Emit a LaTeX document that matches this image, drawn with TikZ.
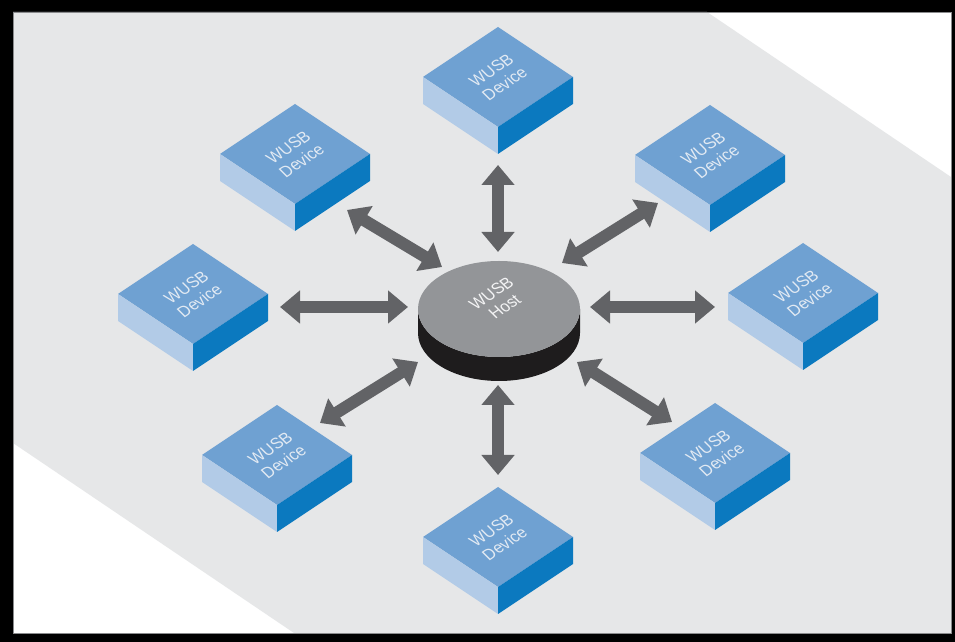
\documentclass[tikz,border=0pt]{standalone}
\usepackage{fontspec}
\setmainfont{Liberation Sans}
\usetikzlibrary{arrows.meta}

\definecolor{bandgray}{HTML}{E6E7E8}
\definecolor{topblue}{HTML}{6FA1D2}
\definecolor{leftblue}{HTML}{B2CBE7}
\definecolor{rightblue}{HTML}{0B79BF}
\definecolor{arrowgray}{HTML}{626366}
\definecolor{hosttop}{HTML}{939598}
\definecolor{hostside}{HTML}{1E1C1D}
\definecolor{labeltext}{HTML}{E2EAF3}
\definecolor{frameedge}{HTML}{8A8B8D}

\tikzset{
  isolabel/.style={cm={0.765,0.511,-0.707,0.707,(0,0)}, text=labeltext,
    font=\fontsize{17}{19}\selectfont, align=center, inner sep=0pt},
  link/.style={arrowgray, line width=12pt,
    {Triangle[length=20pt,width=32pt]}-{Triangle[length=20pt,width=32pt]}},
}

% isometric device block: #1 node name, #2 centre of the top face
\newcommand\wusbdevice[2]{%
  \begin{scope}[shift={#2}]
    \fill[topblue]   (-75,0) -- (0,50) -- (75,0) -- (0,-50) -- cycle;
    \fill[leftblue]  (-75,0) -- (0,-50) -- (0,-77) -- (-75,-27) -- cycle;
    \fill[rightblue] (0,-50) -- (75,0) -- (75,-27) -- (0,-77) -- cycle;
  \end{scope}
  \node[isolabel] (#1) at #2 {WUSB\\Device};
}

\begin{document}
\begin{tikzpicture}[x=1pt,y=1pt]
  \useasboundingbox (0,0) rectangle (955,642);

  % frame and diagonal floor band
  \fill[black] (0,0) rectangle (955,642);
  \fill[white] (13,9) rectangle (951,630);
  \fill[bandgray] (13,630) -- (707,630) -- (951,465) -- (951,9) -- (294,9) -- (13,199) -- cycle;
  \draw[frameedge, line width=0.8pt] (13,9) rectangle (951,630);

  % devices
  \wusbdevice{dT}{(498,565)}
  \wusbdevice{dUL}{(295,488)}
  \wusbdevice{dUR}{(710,487)}
  \wusbdevice{dL}{(193,348)}
  \wusbdevice{dR}{(803,349)}
  \wusbdevice{dLL}{(277,187)}
  \wusbdevice{dLR}{(715,189)}
  \wusbdevice{dB}{(498,105)}

  % host puck
  \fill[hostside] (418,333) -- (418,309)
    arc[start angle=180, end angle=360, x radius=81pt, y radius=48pt]
    -- (580,333)
    arc[start angle=0, end angle=-180, x radius=81pt, y radius=48pt] -- cycle;
  \fill[hosttop] (499,333) ellipse[x radius=81pt, y radius=48pt];
  \node[isolabel, text=white!90!hosttop] (host) at (498,342) {WUSB\\Host};

  % link end points
  \coordinate (tD)  at (498,477); \coordinate (tH)  at (498,390);
  \coordinate (ulD) at (347,432); \coordinate (ulH) at (442,375);
  \coordinate (urD) at (658,439); \coordinate (urH) at (562,379);
  \coordinate (lD)  at (280,335); \coordinate (lH)  at (408,335);
  \coordinate (rD)  at (715,335); \coordinate (rH)  at (590,335);
  \coordinate (llD) at (320,219); \coordinate (llH) at (418,280);
  \coordinate (lrD) at (672,220); \coordinate (lrH) at (577,280);
  \coordinate (bD)  at (498,167); \coordinate (bH)  at (498,257);

  % two-way links
  \draw[link] (tD) -- (tH);
  \draw[link] (ulD) -- (ulH);
  \draw[link] (urD) -- (urH);
  \draw[link] (lD) -- (lH);
  \draw[link] (rD) -- (rH);
  \draw[link] (llD) -- (llH);
  \draw[link] (lrD) -- (lrH);
  \draw[link] (bD) -- (bH);
\end{tikzpicture}
\end{document}
